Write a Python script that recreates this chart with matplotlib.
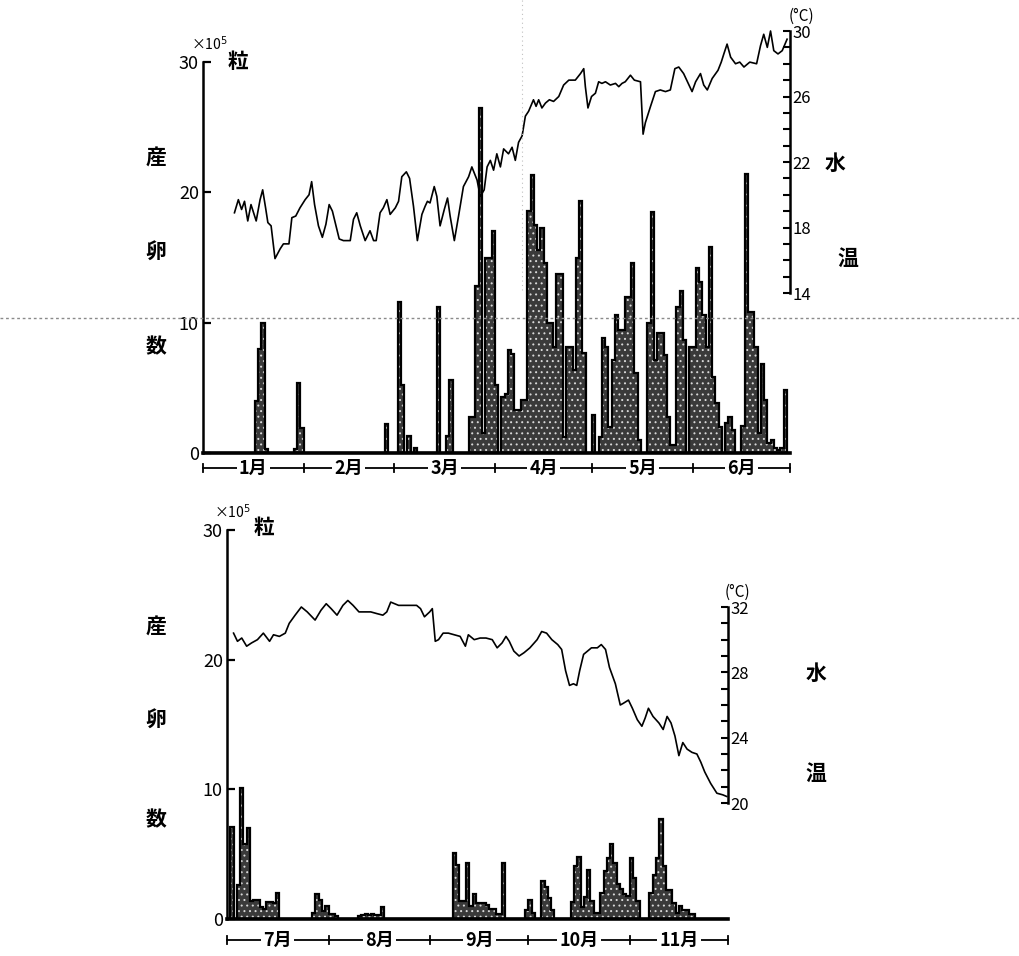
import matplotlib
matplotlib.use('Agg')
import matplotlib.pyplot as plt
import numpy as np
from matplotlib.lines import Line2D

# 産卵数(x10^5 粒)と水温の日別推移 (上: 1-6月, 下: 7-11月)
plt.rcParams['font.family'] = ['Noto Sans CJK JP', 'DejaVu Sans']
plt.rcParams['hatch.linewidth'] = 0.7

W, H = 1019, 956

# ---- 上段: 1月-6月 日別産卵数 (x10^5 粒) ----
jan_eggs = [0, 0, 0, 0, 0, 0, 0, 0, 0, 0, 0, 0, 0, 0, 0, 0, 4.0, 8.0, 10.0, 0.3,
            0, 0, 0, 0, 0, 0, 0, 0, 0.3, 5.4, 1.9]
feb_eggs = [0, 0, 0, 0, 0, 0, 0, 0, 0, 0, 0, 0, 0, 0, 0, 0, 0, 0, 0, 0,
            0, 0, 0, 0, 0, 2.2, 0, 0]
mar_eggs = [0, 11.6, 5.2, 0, 1.3, 0, 0.4, 0, 0, 0, 0, 0, 0, 11.2, 0, 0, 1.3, 5.6, 0, 0,
            0, 0, 0, 2.8, 2.8, 12.8, 26.5, 1.5, 15.0, 15.0, 17.0]
apr_eggs = [5.2, 0, 4.3, 4.5, 7.9, 7.6, 3.3, 3.3, 4.1, 4.1, 18.6, 21.3, 17.5, 15.6, 17.3,
            14.6, 10.0, 10.0, 8.1, 13.7, 13.7, 1.2, 8.1, 8.1, 6.4, 15.0, 19.3, 7.7, 0, 0]
may_eggs = [2.9, 0, 1.2, 8.8, 8.1, 2.0, 7.1, 10.6, 9.4, 9.4, 12.0, 12.0, 14.6, 6.1, 1.0,
            0, 0, 10.0, 18.5, 7.1, 9.2, 9.2, 7.5, 2.8, 0.6, 0.6, 11.2, 12.4, 8.7, 0, 8.1]
jun_eggs = [8.1, 14.2, 13.1, 10.6, 8.1, 15.8, 5.8, 3.8, 2.0, 0, 2.3, 2.8, 1.8, 0, 0,
            2.1, 21.4, 10.8, 10.8, 8.1, 1.5, 6.8, 4.1, 0.8, 1.0, 0.4, 0.2, 0.4, 4.8, 0]

# 上段 水温 (日, ℃)
temp1_day = [9.7, 10.9, 11.9, 12.8, 13.8, 14.8, 16.4, 17.6, 18.4, 19.3, 20.0, 21.0, 22.2,
             23.8, 24.8, 26.5, 27.4, 28.6, 29.9, 31.5, 32.7, 33.5, 34.4, 35.6, 36.8, 37.9,
             38.9, 39.9, 41.0, 42.0, 43.3, 45.4, 46.4, 47.4, 48.5, 50.0, 51.5, 52.6, 53.4,
             54.6, 55.6, 56.7, 57.7, 59.3, 60.3, 61.3, 62.7, 63.7, 64.9, 66.1, 67.5, 68.5,
             69.2, 70.0, 71.3, 72.1, 73.1, 74.4, 75.4, 76.2, 77.5, 78.8, 80.3, 81.9, 82.9,
             84.5, 85.5, 86.7, 87.6, 88.6, 89.6, 90.6, 91.7, 92.7, 94.2, 95.3, 96.3, 97.3,
             98.4, 99.4, 100.4, 101.9, 102.7, 103.5, 104.5, 105.6, 106.8, 108.1, 109.7,
             111.2, 112.8, 114.8, 116.4, 117.4, 117.9, 118.7, 119.8, 121.0, 122.0, 123.0,
             124.1, 125.6, 127.2, 128.2, 129.2, 130.2, 131.8, 133.0, 134.9, 135.7, 136.4,
             138.0, 139.5, 141.0, 142.6, 144.1, 145.5, 146.7, 148.2, 150.1, 150.8, 151.9,
             153.4, 154.4, 155.5, 157.0, 158.8, 159.8, 160.6, 161.6, 162.7, 164.2, 165.5,
             166.8, 168.6, 170.7, 171.9, 172.9, 174.0, 175.0, 176.0, 177.3, 178.6, 180.1]
temp1_val = [18.9, 19.7, 19.1, 19.6, 18.4, 19.4, 18.4, 19.7, 20.3, 19.2, 18.3, 18.1, 16.1,
             16.7, 17.0, 17.0, 18.6, 18.7, 19.2, 19.7, 20.0, 20.8, 19.4, 18.1, 17.4, 18.2,
             19.4, 19.0, 18.1, 17.3, 17.2, 17.2, 18.5, 18.9, 18.1, 17.2, 17.8, 17.2, 17.2,
             18.9, 19.2, 19.7, 18.8, 19.2, 19.6, 21.1, 21.4, 21.0, 19.3, 17.2, 18.8, 19.3,
             19.6, 19.5, 20.5, 19.9, 18.1, 19.1, 19.8, 18.7, 17.2, 18.7, 20.5, 21.1, 21.7,
             20.9, 19.9, 20.3, 21.7, 22.1, 21.5, 22.5, 21.7, 22.8, 22.5, 22.9, 22.1, 23.2,
             23.6, 24.8, 25.1, 25.8, 25.4, 25.8, 25.3, 25.6, 25.8, 25.7, 26.0,
             26.7, 27.0, 27.0, 27.4, 27.7, 26.6, 25.3, 26.0, 26.2, 26.9, 26.8,
             26.9, 26.7, 26.8, 26.6, 26.8, 26.9, 27.3, 27.0, 26.9, 23.7, 24.4,
             25.4, 26.3, 26.4, 26.3, 26.4, 27.7, 27.8, 27.4, 26.6, 26.3, 26.9,
             27.4, 26.7, 26.4, 27.1, 27.6, 28.1, 28.6, 29.2, 28.4, 28.0, 28.1,
             27.8, 28.1, 28.0, 29.1, 29.8, 29.0, 30.0, 28.8, 28.6, 28.8, 29.5]

# ---- 下段: 7月-11月 日別産卵数 (x10^5 粒) ----
jul_eggs = [0, 7.1, 0, 2.6, 10.1, 5.8, 7.0, 1.4, 1.5, 1.5, 0.9, 0.8, 1.3, 1.3, 1.2, 2.0,
            0, 0, 0, 0, 0, 0, 0, 0, 0, 0, 0.5, 1.9, 1.5, 0.6, 1.0]
aug_eggs = [0.4, 0.4, 0.2, 0, 0, 0, 0, 0, 0, 0.2, 0.3, 0.4, 0.3, 0.4, 0.3, 0.3, 0.9,
            0, 0, 0, 0, 0, 0, 0, 0, 0, 0, 0, 0, 0, 0]
sep_eggs = [0, 0, 0, 0, 0, 0, 0, 5.1, 4.2, 1.4, 1.4, 4.3, 1.0, 1.9, 1.2, 1.2, 1.2, 1.1,
            0.8, 0.8, 0.4, 0.4, 4.3, 0, 0, 0, 0, 0, 0, 0.7]
oct_eggs = [1.5, 0.5, 0, 0, 2.9, 2.5, 1.6, 0.7, 0, 0, 0, 0, 0, 1.3, 4.1, 4.8, 0.9, 1.7,
            3.8, 1.4, 0.5, 0.5, 2.0, 3.7, 4.7, 5.8, 4.3, 2.7, 2.3, 1.9, 1.8]
nov_eggs = [4.7, 3.2, 1.4, 0, 0, 0, 2.0, 3.4, 4.7, 7.7, 4.1, 2.2, 2.2, 1.2, 0.5, 1.0,
            0.7, 0.7, 0.4, 0.4, 0, 0, 0, 0, 0, 0, 0, 0, 0, 0]

# 下段 水温 (日, ℃)
temp2_day = [2.0, 3.2, 4.5, 6.0, 7.5, 9.3, 11.1, 13.0, 14.2, 16.0, 17.8, 19.0, 20.8, 22.7,
             24.5, 26.9, 28.7, 30.3, 31.8, 33.6, 35.4, 36.9, 38.5, 40.3, 42.1, 43.9, 45.7,
             47.6, 48.8, 50.0, 51.2, 52.4, 54.8, 57.9, 59.1, 60.3, 61.9, 62.7, 63.6, 64.6,
             66.0, 67.6, 69.4, 71.2, 72.8, 73.7, 75.5, 77.3, 79.1, 81.0, 82.5, 84.0, 85.2,
             86.2, 87.6, 89.2, 90.7, 92.5, 94.7, 96.1, 97.6, 99.2, 101.0, 102.2, 103.4,
             104.6, 105.8, 106.8, 107.7, 108.9, 111.3, 113.1, 114.3, 115.6, 116.8, 118.6,
             120.1, 121.0, 122.6, 123.8, 125.3, 126.7, 127.7, 128.7, 130.1, 131.9, 133.2,
             134.4, 135.6, 136.8, 138.0, 139.2, 140.5, 142.0, 143.5, 144.7, 145.9, 147.7,
             149.6, 151.4, 152.6]
temp2_val = [30.4, 29.9, 30.1, 29.6, 29.8, 30.0, 30.4, 29.9, 30.3, 30.2, 30.4, 31.0, 31.5,
             32.0, 31.7, 31.2, 31.8, 32.2, 31.9, 31.5, 32.1, 32.4, 32.1, 31.7, 31.7, 31.7,
             31.6, 31.5, 31.7, 32.3, 32.2, 32.1, 32.1, 32.1, 31.9, 31.4, 31.7, 31.9, 29.9,
             30.0, 30.4, 30.4, 30.3, 30.2, 29.6, 30.3, 30.0, 30.1, 30.1, 30.0, 29.5, 29.8,
             30.2, 29.9, 29.3, 29.0, 29.2, 29.5, 30.0, 30.5, 30.4, 30.0, 29.7, 29.4, 28.1,
             27.2, 27.3, 27.2, 28.1, 29.1, 29.5, 29.5, 29.7, 29.4, 28.3, 27.3,
             26.0, 26.1, 26.3, 25.8, 25.1, 24.7, 25.2, 25.8, 25.3, 24.9, 24.5,
             25.3, 24.9, 24.1, 22.9, 23.7, 23.3, 23.1, 23.0, 22.5, 21.9, 21.2,
             20.6, 20.5, 20.4]

months_1 = ['1月', '2月', '3月', '4月', '5月', '6月']
month_days_1 = [31, 28, 31, 30, 31, 30]
months_2 = ['7月', '8月', '9月', '10月', '11月']
month_days_2 = [31, 31, 30, 31, 30]


def fig_rect(left, top, right, bottom):
    """画素座標 -> figure 座標"""
    return [left / W, 1 - bottom / H, (right - left) / W, (bottom - top) / H]


def fig_text(fig, px, py, s, **kw):
    fig.text(px / W, 1 - py / H, s, ha='center', va='center', **kw)


def draw_panel(fig, egg_box, temp_box, eggs, t_day, t_val, t_lim, t_major,
               months, month_days, label_gap):
    n = len(eggs)
    edges = np.arange(n + 1)

    ax = fig.add_axes(fig_rect(*egg_box))
    ax.patch.set_alpha(0)
    ax.set_xlim(0, n)
    ax.set_ylim(0, 30)
    # 網点風の塗り + 黒い輪郭
    ax.stairs(eggs, edges, baseline=0, fill=True, facecolor='#3a3a3a',
              edgecolor='#d8d8d8', hatch='...', linewidth=0)
    ax.stairs(eggs, edges, baseline=0, fill=False, color='black', linewidth=1.6)
    for side in ['top', 'right']:
        ax.spines[side].set_visible(False)
    ax.spines['left'].set_linewidth(1.8)
    ax.spines['bottom'].set_linewidth(2.6)
    ax.set_xticks([])
    ax.set_yticks([0, 10, 20, 30])
    ax.tick_params(axis='y', direction='in', length=6, width=1.6, labelsize=13, pad=3)

    # 月の目盛り (├─ 1月 ─┼─ 2月 ─┤)
    h_px = (egg_box[3] - egg_box[1])
    yb = -label_gap / h_px
    tr = ax.get_xaxis_transform()
    ax.plot([0, n], [yb, yb], color='black', lw=1.3, transform=tr, clip_on=False)
    bounds = np.concatenate([[0], np.cumsum(month_days)])
    for b in bounds:
        ax.plot([b, b], [yb - 4 / h_px, yb + 4 / h_px], color='black', lw=1.3,
                transform=tr, clip_on=False)
    for i, m in enumerate(months):
        mid = (bounds[i] + bounds[i + 1]) / 2
        ax.text(mid, yb, m, transform=tr, ha='center', va='center', fontsize=13,
                fontweight='bold',
                bbox=dict(facecolor='white', edgecolor='none', pad=1.5))

    # 水温
    tax = fig.add_axes(fig_rect(*temp_box))
    tax.patch.set_alpha(0)
    tax.set_xlim(0, n)
    tax.set_ylim(*t_lim)
    tax.plot(t_day, t_val, color='black', lw=1.2, clip_on=False)
    for side in ['top', 'left', 'bottom']:
        tax.spines[side].set_visible(False)
    tax.spines['right'].set_linewidth(1.8)
    tax.set_xticks([])
    tax.yaxis.tick_right()
    tax.set_yticks(t_major)
    tax.set_yticks(np.arange(t_lim[0], t_lim[1] + 1, 1), minor=True)
    tax.tick_params(axis='y', which='both', direction='in', length=5, width=1.5,
                    labelsize=12, pad=2)
    return ax, tax


fig = plt.figure(figsize=(W / 100, H / 100), dpi=100)
fig.patch.set_facecolor('white')

# 走査跡の点線
fig.add_artist(Line2D([0, 1], [1 - 318 / H, 1 - 318 / H], color='#8a8a8a', lw=1.0,
                      ls=(0, (2, 2))))
fig.add_artist(Line2D([522 / W, 522 / W], [1.0, 1 - 290 / H], color='#c0c0c0', lw=0.8,
                      ls=(0, (1, 3))))

eggs_1 = jan_eggs + feb_eggs + mar_eggs + apr_eggs + may_eggs + jun_eggs
eggs_2 = jul_eggs + aug_eggs + sep_eggs + oct_eggs + nov_eggs

draw_panel(fig, (203, 62, 790, 453), (203, 31, 790, 293), eggs_1, temp1_day, temp1_val,
           (14, 30), [14, 18, 22, 26, 30], months_1, month_days_1, 15)
draw_panel(fig, (227, 530, 728, 919), (227, 607, 728, 803), eggs_2, temp2_day, temp2_val,
           (20, 32), [20, 24, 28, 32], months_2, month_days_2, 21)

# 文字
kw = dict(fontsize=15, fontweight='bold')
fig_text(fig, 209, 44, '×10$^5$', fontsize=10)
fig_text(fig, 238, 61, '粒', **kw)
fig_text(fig, 156, 158, '産', **kw)
fig_text(fig, 156, 252, '卵', **kw)
fig_text(fig, 156, 347, '数', **kw)
fig_text(fig, 835, 163, '水', **kw)
fig_text(fig, 848, 258, '温', **kw)
fig_text(fig, 801, 16, '(°C)', fontsize=11)

fig_text(fig, 232, 512, '×10$^5$', fontsize=10)
fig_text(fig, 264, 528, '粒', **kw)
fig_text(fig, 156, 627, '産', **kw)
fig_text(fig, 156, 720, '卵', **kw)
fig_text(fig, 156, 820, '数', **kw)
fig_text(fig, 816, 673, '水', **kw)
fig_text(fig, 816, 773, '温', **kw)
fig_text(fig, 737, 592, '(°C)', fontsize=11)

fig.savefig('out.png', dpi=100)
